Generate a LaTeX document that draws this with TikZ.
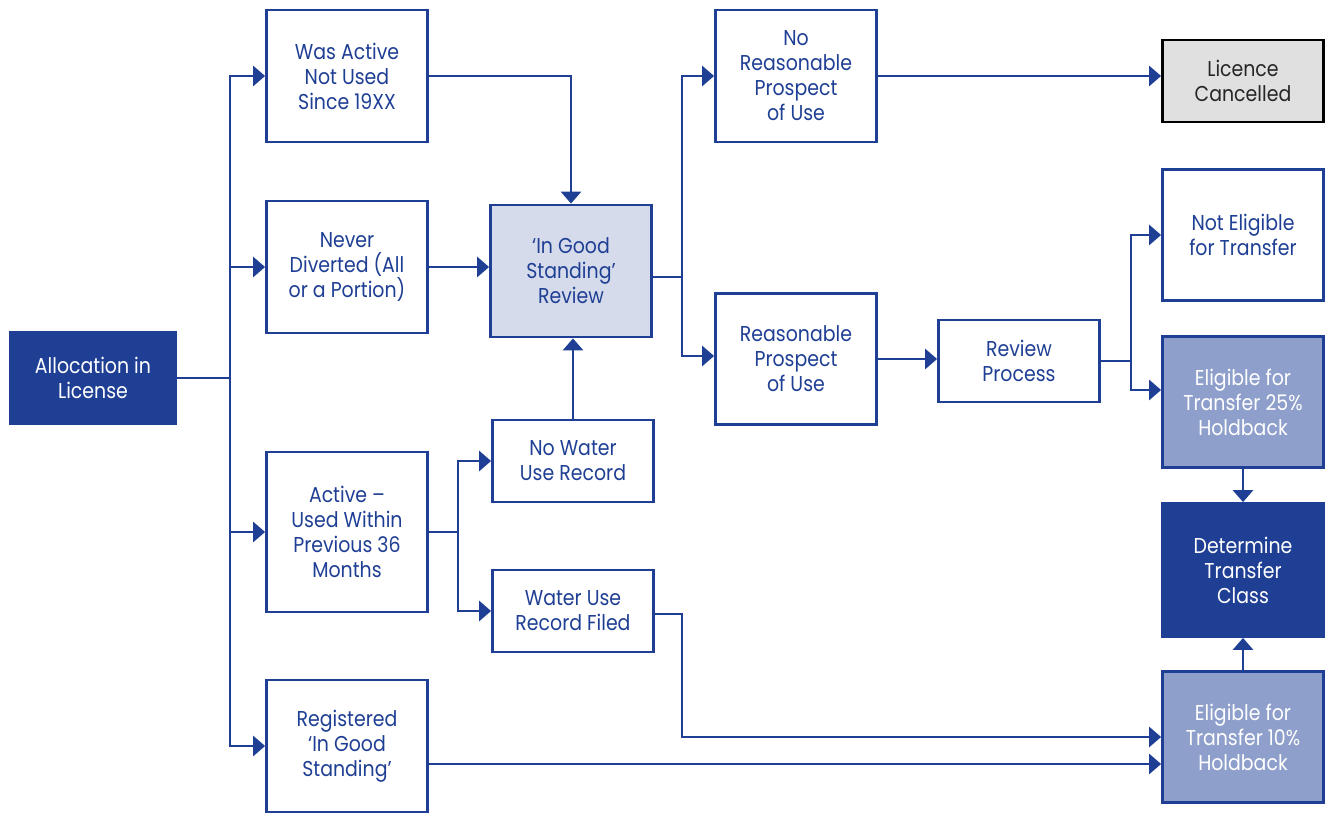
\documentclass[tikz,border=0pt]{standalone}
\usepackage{fontspec}
\setmainfont[FakeStretch=0.88]{Poppins}
\usetikzlibrary{arrows.meta,positioning}
\definecolor{flowblue}{HTML}{1F3F94}
\definecolor{midblue}{HTML}{8E9FCB}
\definecolor{paleblue}{HTML}{D5DBEB}
\definecolor{greybox}{HTML}{E0E0E0}
\tikzset{>={Triangle[width=20pt,length=12pt]}}

\begin{document}
\begin{tikzpicture}[x=1pt, y=-1pt, line width=2.8pt,
	every node/.style={font=\fontsize{21.5}{25}\selectfont, align=center, inner sep=0pt},
	box/.style={draw=flowblue, fill=white, text=flowblue, minimum width=161pt, minimum height=132pt},
	lowbox/.style={box, minimum height=82pt},
	darkbox/.style={box, fill=flowblue, text=white},
	midbox/.style={box, fill=midblue, text=white},
	conn/.style={draw=flowblue}]
	\useasboundingbox (0,0) rectangle (1332,813);

	% start and first split
	\node[darkbox, minimum width=166pt, minimum height=92pt] (alloc) at (93,378) {Allocation in\\License};
	\node[box] (wasactive) at (347,76) {Was Active\\Not Used\\Since 19XX};
	\node[box] (never) at (347,267) {Never\\Diverted (All\\or a Portion)};
	\node[box, minimum height=160pt] (active) at (347,532) {Active –\\Used Within\\Previous 36\\Months};
	\node[box] (registered) at (347,746) {Registered\\`In Good\\Standing'};

	% review column
	\node[box, fill=paleblue] (review) at (571,271) {`In Good\\Standing'\\Review};
	\node[lowbox] (nowater) at (573,461) {No Water\\Use Record};
	\node[lowbox] (filed) at (573,611) {Water Use\\Record Filed};

	% prospect of use
	\node[box] (noprospect) at (796,76) {No\\Reasonable\\Prospect\\of Use};
	\node[box, minimum height=131pt] (prospect) at (796,359) {Reasonable\\Prospect\\of Use};
	\node[lowbox] (process) at (1019,361) {Review\\Process};

	% outcomes
	\node[box, draw=black, fill=greybox, text=black!85, minimum height=82pt] (cancelled) at (1243,81) {Licence\\Cancelled};
	\node[box, minimum height=131pt] (noteligible) at (1243,235) {Not Eligible\\for Transfer};
	\node[midbox, minimum height=131pt] (elig25) at (1243,402) {Eligible for\\Transfer 25\%\\Holdback};
	\node[darkbox, minimum height=133pt] (class) at (1243,570) {Determine\\Transfer\\Class};
	\node[midbox, minimum height=131pt] (elig10) at (1243,737) {Eligible for\\Transfer 10\%\\Holdback};

	% bend points
	\coordinate (trunk) at (230,378);
	\coordinate (actsplit) at (458,532);
	\coordinate (revsplit) at (682,277);
	\coordinate (procsplit) at (1131,361);
	\coordinate (filedbend) at (682,611);

	\draw[conn] (alloc.east) -- (trunk);
	\draw[conn,->] (trunk) |- (wasactive.west);
	\draw[conn,->] (trunk) |- (never.west);
	\draw[conn,->] (trunk) |- (active.west);
	\draw[conn,->] (trunk) |- (registered.west);

	\draw[conn,->] (wasactive.east) -| (review.north);
	\draw[conn,->] (never.east) -- (never.east -| review.west);
	\draw[conn,->] (nowater.north) -- (nowater.north |- review.south);

	\draw[conn] (active.east) -- (actsplit);
	\draw[conn,->] (actsplit) |- (nowater.west);
	\draw[conn,->] (actsplit) |- (filed.west);

	\draw[conn] (review.east |- revsplit) -- (revsplit);
	\draw[conn,->] (revsplit) |- (noprospect.west);
	\draw[conn,->] (revsplit) |- ([yshift=3pt]prospect.west);

	\draw[conn,->] (noprospect.east) -- (noprospect.east -| cancelled.west);
	\draw[conn,->] (prospect.east) -- (prospect.east -| process.west);

	\draw[conn] (process.east) -- (procsplit);
	\draw[conn,->] (procsplit) |- (noteligible.west);
	\draw[conn,->] (procsplit) |- ([yshift=12pt]elig25.west);

	\draw[conn,->] (elig25.south) -- (class.north);
	\draw[conn,->] (elig10.north) -- (class.south);

	\draw[conn,->] ([yshift=-3pt]filed.east) -| (filedbend |- elig10.west) -- (elig10.west);
	\draw[conn,->] ([yshift=-18pt]registered.east) -- ([yshift=-18pt]registered.east -| elig10.west);
\end{tikzpicture}
\end{document}
